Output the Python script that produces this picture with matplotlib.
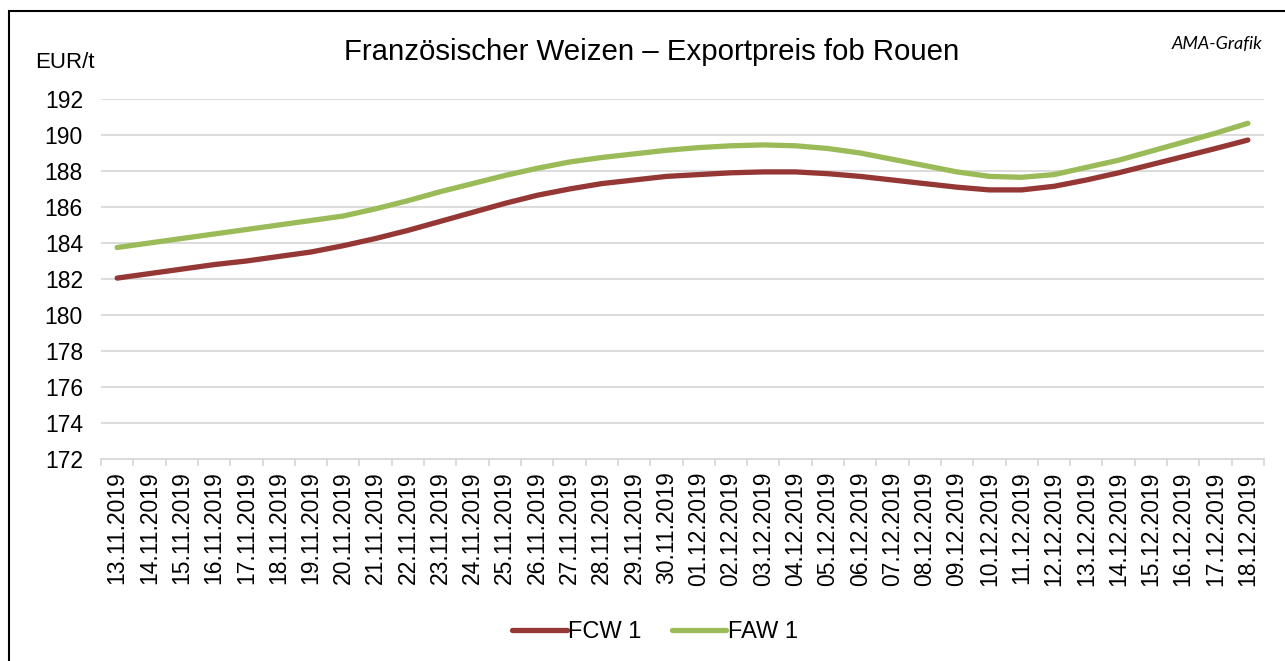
import matplotlib
matplotlib.use('Agg')
import matplotlib.pyplot as plt
from matplotlib.patches import Rectangle
import numpy as np

plt.rcParams['font.family'] = ['Liberation Sans', 'DejaVu Sans']

dates = ['13.11.2019', '14.11.2019', '15.11.2019', '16.11.2019', '17.11.2019', '18.11.2019',
         '19.11.2019', '20.11.2019', '21.11.2019', '22.11.2019', '23.11.2019', '24.11.2019',
         '25.11.2019', '26.11.2019', '27.11.2019', '28.11.2019', '29.11.2019', '30.11.2019',
         '01.12.2019', '02.12.2019', '03.12.2019', '04.12.2019', '05.12.2019', '06.12.2019',
         '07.12.2019', '08.12.2019', '09.12.2019', '10.12.2019', '11.12.2019', '12.12.2019',
         '13.12.2019', '14.12.2019', '15.12.2019', '16.12.2019', '17.12.2019', '18.12.2019']

fcw1 = [182.05, 182.3, 182.55, 182.8, 183.0, 183.25, 183.5, 183.85, 184.25, 184.7,
        185.2, 185.7, 186.2, 186.65, 187.0, 187.3, 187.5, 187.7, 187.8, 187.9,
        187.95, 187.95, 187.85, 187.7, 187.5, 187.3, 187.1, 186.95, 186.95, 187.15,
        187.5, 187.9, 188.35, 188.8, 189.25, 189.72]

faw1 = [183.75, 184.0, 184.25, 184.5, 184.75, 185.0, 185.25, 185.5, 185.9, 186.35,
        186.85, 187.3, 187.75, 188.15, 188.5, 188.75, 188.95, 189.15, 189.3, 189.4,
        189.45, 189.4, 189.25, 189.0, 188.65, 188.3, 187.95, 187.7, 187.65, 187.8,
        188.2, 188.6, 189.1, 189.6, 190.1, 190.65]

yticks = np.arange(172, 193, 2)

fig = plt.figure(figsize=(12.85, 6.61), dpi=100)
ax = fig.add_axes([101 / 1285, 1 - 459 / 661, (1264 - 101) / 1285, 360 / 661])

x = np.arange(len(dates))
ax.plot(x, fcw1, color='#953735', lw=3.8, solid_capstyle='round', solid_joinstyle='round',
        label='FCW 1', zorder=3)
ax.plot(x, faw1, color='#9BBB59', lw=3.8, solid_capstyle='round', solid_joinstyle='round',
        label='FAW 1', zorder=3)

ax.set_xlim(-0.5, len(dates) - 0.5)
ax.set_ylim(172, 192)
ax.set_yticks(yticks)
ax.set_yticklabels([str(v) for v in yticks], fontsize=16.5)
ax.yaxis.grid(True, color='#D9D9D9', lw=1.3)
ax.set_axisbelow(True)

ax.set_xticks(x)
ax.set_xticklabels(dates, rotation=90, fontsize=16.5)
ax.set_xticks(np.arange(-0.5, len(dates), 1), minor=True)
ax.tick_params(axis='x', which='major', length=0, pad=9)
ax.tick_params(axis='x', which='minor', length=5, color='#D9D9D9', width=1.3)
ax.tick_params(axis='y', length=0, pad=13)

for s in ['top', 'right', 'left']:
    ax.spines[s].set_visible(False)
ax.spines['bottom'].set_color('#D9D9D9')
ax.spines['bottom'].set_linewidth(1.3)

fig.text(652 / 1285, 1 - 52 / 661, 'Französischer Weizen – Exportpreis fob Rouen',
         ha='center', va='center', fontsize=21.2)
fig.text(35 / 1285, 1 - 62 / 661, 'EUR/t', ha='left', va='center', fontsize=16)
fig.text(1262 / 1285, 1 - 44 / 661, 'AMA-Grafik', ha='right', va='center', fontsize=13,
         style='italic', family=['Lato', 'DejaVu Sans'])

fig.legend(loc='center', bbox_to_anchor=(655 / 1285, 1 - 632 / 661), ncol=2, frameon=False,
           fontsize=17, handlelength=2.3, handletextpad=0.05, columnspacing=1.3)

fig.patches.append(Rectangle((9 / 1285, -0.05), 1.1, 1 - 11 / 661 + 0.05,
                             transform=fig.transFigure, fill=False, ec='black', lw=1.5))

fig.savefig('out.png', dpi=100)
